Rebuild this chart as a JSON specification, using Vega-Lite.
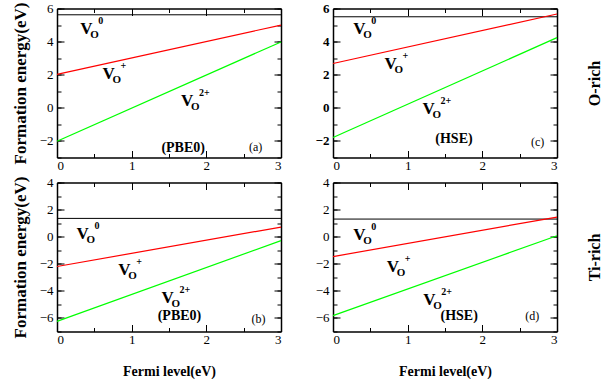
{
  "$schema": "https://vega.github.io/schema/vega-lite/v6.json",
  "padding": {"left": 11, "top": 1.5, "right": 0, "bottom": 0},
  "datasets": {
    "lines": [
      {"p": "a", "s": "+", "x": 0, "e": 2.02}, {"p": "a", "s": "+", "x": 3, "e": 5.0},
      {"p": "a", "s": "2+", "x": 0, "e": -2.02}, {"p": "a", "s": "2+", "x": 3, "e": 3.98},
      {"p": "c", "s": "+", "x": 0, "e": 2.68}, {"p": "c", "s": "+", "x": 3, "e": 5.67},
      {"p": "c", "s": "2+", "x": 0, "e": -1.79}, {"p": "c", "s": "2+", "x": 3, "e": 4.24},
      {"p": "b", "s": "+", "x": 0, "e": -2.2}, {"p": "b", "s": "+", "x": 3, "e": 0.71},
      {"p": "b", "s": "2+", "x": 0, "e": -6.25}, {"p": "b", "s": "2+", "x": 3, "e": -0.29},
      {"p": "d", "s": "+", "x": 0, "e": -1.47}, {"p": "d", "s": "+", "x": 3, "e": 1.45},
      {"p": "d", "s": "2+", "x": 0, "e": -5.83}, {"p": "d", "s": "2+", "x": 3, "e": 0.07}
    ],
    "v0": [
      {"p": "a", "e": 5.62}, {"p": "c", "e": 5.5}, {"p": "b", "e": 1.35}, {"p": "d", "e": 1.3}
    ],
    "labels": [
      {"p": "a", "x": 0.31, "y": 4.44, "sup": "0"}, {"p": "a", "x": 0.61, "y": 1.76, "sup": "+"}, {"p": "a", "x": 1.66, "y": 0.14, "sup": "2+"},
      {"p": "c", "x": 0.27, "y": 4.48, "sup": "0"}, {"p": "c", "x": 0.69, "y": 2.36, "sup": "+"}, {"p": "c", "x": 1.2, "y": -0.36, "sup": "2+"},
      {"p": "b", "x": 0.26, "y": -0.17, "sup": "0"}, {"p": "b", "x": 0.82, "y": -2.82, "sup": "+"}, {"p": "b", "x": 1.4, "y": -4.9, "sup": "2+"},
      {"p": "d", "x": 0.27, "y": -0.24, "sup": "0"}, {"p": "d", "x": 0.72, "y": -2.62, "sup": "+"}, {"p": "d", "x": 1.21, "y": -5.02, "sup": "2+"}
    ],
    "tags": [
      {"p": "a", "k": "m", "x": 1.69, "y": -2.41, "t": "(PBE0)"}, {"p": "a", "k": "l", "x": 2.66, "y": -2.35, "t": "(a)"},
      {"p": "c", "k": "m", "x": 1.62, "y": -1.88, "t": "(HSE)"}, {"p": "c", "k": "l", "x": 2.74, "y": -2.08, "t": "(c)"},
      {"p": "b", "k": "m", "x": 1.64, "y": -5.88, "t": "(PBE0)"}, {"p": "b", "k": "l", "x": 2.7, "y": -6.07, "t": "(b)"},
      {"p": "d", "k": "m", "x": 1.69, "y": -5.88, "t": "(HSE)"}, {"p": "d", "k": "l", "x": 2.67, "y": -5.88, "t": "(d)"}
    ]
  },
  "columns": 2,
  "spacing": {"row": 25, "column": 52},
  "bounds": "flush",
  "concat": [
    {
      "width": 224, "height": 149,
      "layer": [
        {"data": {"name": "v0"}, "transform": [{"filter": "datum.p == 'a'"}],
         "mark": {"type": "rule", "color": "black", "strokeWidth": 1},
         "encoding": {"y": {"field": "e", "type": "quantitative", "scale": {"domain": [-3, 6], "nice": false, "zero": false},
           "axis": {"orient": "left", "values": [-2, 0, 2, 4, 6], "tickSize": -7, "labelPadding": 11, "title": "Formation energy(eV)", "titlePadding": 19, "titleBaseline": "middle", "titleAngle": 270, "titleFontSize": 17}}}},
        {"data": {"name": "lines"}, "transform": [{"filter": "datum.p == 'a'"}],
         "mark": {"type": "line", "strokeWidth": 1.2},
         "encoding": {
           "x": {"field": "x", "type": "quantitative", "scale": {"domain": [0, 3], "nice": false, "zero": false},
             "axis": {"orient": "bottom", "values": [0, 1, 2, 3], "tickSize": -7, "labelPadding": 9, "title": null}},
           "y": {"field": "e", "type": "quantitative", "scale": {"domain": [-3, 6], "nice": false, "zero": false},
             "axis": {"orient": "left", "values": [-3, -2, -1, 0, 1, 2, 3, 4, 5, 6], "tickSize": -4, "labels": false, "domain": false, "title": null}},
           "color": {"field": "s", "type": "nominal", "scale": {"domain": ["+", "2+"], "range": ["#ff0000", "#00ff00"]}, "legend": null}}},
        {"data": {"name": "labels"}, "transform": [{"filter": "datum.p == 'a'"}],
         "mark": {"type": "text", "text": "V", "fontSize": 17, "fontWeight": "bold", "align": "left", "baseline": "alphabetic"},
         "encoding": {
           "x": {"field": "x", "type": "quantitative", "scale": {"domain": [0, 3], "nice": false, "zero": false},
             "axis": {"orient": "bottom", "values": [0, 0.5, 1, 1.5, 2, 2.5, 3], "tickSize": -4, "labels": false, "domain": false, "title": null}},
           "y": {"field": "y", "type": "quantitative", "scale": {"domain": [-3, 6], "nice": false, "zero": false},
             "axis": {"orient": "right", "values": [-2, 0, 2, 4, 6], "tickSize": -7, "labels": false, "title": null}}}},
        {"data": {"name": "labels"}, "transform": [{"filter": "datum.p == 'a'"}],
         "mark": {"type": "text", "text": "O", "fontSize": 11, "fontWeight": "bold", "align": "left", "baseline": "alphabetic", "dx": 10, "dy": 4},
         "encoding": {
           "x": {"field": "x", "type": "quantitative", "scale": {"domain": [0, 3], "nice": false, "zero": false},
             "axis": {"orient": "top", "values": [0, 1, 2, 3], "tickSize": -7, "labels": false, "title": null}},
           "y": {"field": "y", "type": "quantitative", "scale": {"domain": [-3, 6], "nice": false, "zero": false},
             "axis": {"orient": "right", "values": [-3, -2, -1, 0, 1, 2, 3, 4, 5, 6], "tickSize": -4, "labels": false, "domain": false, "title": null}}}},
        {"data": {"name": "labels"}, "transform": [{"filter": "datum.p == 'a'"}],
         "mark": {"type": "text", "fontSize": 10, "fontWeight": "bold", "align": "left", "baseline": "alphabetic", "dx": 18, "dy": -10},
         "encoding": {
           "x": {"field": "x", "type": "quantitative", "scale": {"domain": [0, 3], "nice": false, "zero": false},
             "axis": {"orient": "top", "values": [0, 0.5, 1, 1.5, 2, 2.5, 3], "tickSize": -4, "labels": false, "domain": false, "title": null}},
           "y": {"field": "y", "type": "quantitative", "scale": {"domain": [-3, 6], "nice": false, "zero": false}, "axis": null},
           "text": {"field": "sup"}}},
        {"data": {"name": "tags"}, "transform": [{"filter": "datum.p == 'a' && datum.k == 'm'"}],
         "mark": {"type": "text", "fontSize": 14, "fontWeight": "bold", "align": "center", "baseline": "middle"},
         "encoding": {
           "x": {"field": "x", "type": "quantitative", "axis": null},
           "y": {"field": "y", "type": "quantitative", "axis": null},
           "text": {"field": "t"}}},
        {"data": {"name": "tags"}, "transform": [{"filter": "datum.p == 'a' && datum.k == 'l'"}],
         "mark": {"type": "text", "fontSize": 12, "align": "center", "baseline": "middle"},
         "encoding": {
           "x": {"field": "x", "type": "quantitative", "axis": null},
           "y": {"field": "y", "type": "quantitative", "axis": null},
           "text": {"field": "t"}}}
      ],
      "resolve": {"axis": {"x": "independent", "y": "independent"}}
    },
    {
      "width": 224, "height": 149,
      "layer": [
        {"data": {"name": "v0"}, "transform": [{"filter": "datum.p == 'c'"}],
         "mark": {"type": "rule", "color": "black", "strokeWidth": 1},
         "encoding": {"y": {"field": "e", "type": "quantitative", "scale": {"domain": [-3, 6], "nice": false, "zero": false},
           "axis": {"orient": "left", "values": [-2, 0, 2, 4, 6], "tickSize": -7, "labelPadding": 11, "labelFontWeight": "bold", "title": null}}}},
        {"data": {"name": "lines"}, "transform": [{"filter": "datum.p == 'c'"}],
         "mark": {"type": "line", "strokeWidth": 1.2},
         "encoding": {
           "x": {"field": "x", "type": "quantitative", "scale": {"domain": [0, 3], "nice": false, "zero": false},
             "axis": {"orient": "bottom", "values": [0, 1, 2, 3], "tickSize": -7, "labelPadding": 9, "title": null}},
           "y": {"field": "e", "type": "quantitative", "scale": {"domain": [-3, 6], "nice": false, "zero": false},
             "axis": {"orient": "left", "values": [-3, -2, -1, 0, 1, 2, 3, 4, 5, 6], "tickSize": -4, "labels": false, "domain": false, "title": null}},
           "color": {"field": "s", "type": "nominal", "scale": {"domain": ["+", "2+"], "range": ["#ff0000", "#00ff00"]}, "legend": null}}},
        {"data": {"name": "labels"}, "transform": [{"filter": "datum.p == 'c'"}],
         "mark": {"type": "text", "text": "V", "fontSize": 17, "fontWeight": "bold", "align": "left", "baseline": "alphabetic"},
         "encoding": {
           "x": {"field": "x", "type": "quantitative", "scale": {"domain": [0, 3], "nice": false, "zero": false},
             "axis": {"orient": "bottom", "values": [0, 0.5, 1, 1.5, 2, 2.5, 3], "tickSize": -4, "labels": false, "domain": false, "title": null}},
           "y": {"field": "y", "type": "quantitative", "scale": {"domain": [-3, 6], "nice": false, "zero": false},
             "axis": {"orient": "right", "values": [-2, 0, 2, 4, 6], "tickSize": -7, "labels": false, "title": "O-rich", "titleAngle": 270, "titleBaseline": "middle", "titlePadding": 37, "titleFontSize": 16}}}},
        {"data": {"name": "labels"}, "transform": [{"filter": "datum.p == 'c'"}],
         "mark": {"type": "text", "text": "O", "fontSize": 11, "fontWeight": "bold", "align": "left", "baseline": "alphabetic", "dx": 10, "dy": 4},
         "encoding": {
           "x": {"field": "x", "type": "quantitative", "scale": {"domain": [0, 3], "nice": false, "zero": false},
             "axis": {"orient": "top", "values": [0, 1, 2, 3], "tickSize": -7, "labels": false, "title": null}},
           "y": {"field": "y", "type": "quantitative", "scale": {"domain": [-3, 6], "nice": false, "zero": false},
             "axis": {"orient": "right", "values": [-3, -2, -1, 0, 1, 2, 3, 4, 5, 6], "tickSize": -4, "labels": false, "domain": false, "title": null}}}},
        {"data": {"name": "labels"}, "transform": [{"filter": "datum.p == 'c'"}],
         "mark": {"type": "text", "fontSize": 10, "fontWeight": "bold", "align": "left", "baseline": "alphabetic", "dx": 18, "dy": -10},
         "encoding": {
           "x": {"field": "x", "type": "quantitative", "scale": {"domain": [0, 3], "nice": false, "zero": false},
             "axis": {"orient": "top", "values": [0, 0.5, 1, 1.5, 2, 2.5, 3], "tickSize": -4, "labels": false, "domain": false, "title": null}},
           "y": {"field": "y", "type": "quantitative", "scale": {"domain": [-3, 6], "nice": false, "zero": false}, "axis": null},
           "text": {"field": "sup"}}},
        {"data": {"name": "tags"}, "transform": [{"filter": "datum.p == 'c' && datum.k == 'm'"}],
         "mark": {"type": "text", "fontSize": 14, "fontWeight": "bold", "align": "center", "baseline": "middle"},
         "encoding": {
           "x": {"field": "x", "type": "quantitative", "axis": null},
           "y": {"field": "y", "type": "quantitative", "axis": null},
           "text": {"field": "t"}}},
        {"data": {"name": "tags"}, "transform": [{"filter": "datum.p == 'c' && datum.k == 'l'"}],
         "mark": {"type": "text", "fontSize": 12, "align": "center", "baseline": "middle"},
         "encoding": {
           "x": {"field": "x", "type": "quantitative", "axis": null},
           "y": {"field": "y", "type": "quantitative", "axis": null},
           "text": {"field": "t"}}}
      ],
      "resolve": {"axis": {"x": "independent", "y": "independent"}}
    },
    {
      "width": 224, "height": 149,
      "layer": [
        {"data": {"name": "v0"}, "transform": [{"filter": "datum.p == 'b'"}],
         "mark": {"type": "rule", "color": "black", "strokeWidth": 1},
         "encoding": {"y": {"field": "e", "type": "quantitative", "scale": {"domain": [-7, 4], "nice": false, "zero": false},
           "axis": {"orient": "left", "values": [-6, -4, -2, 0, 2, 4], "tickSize": -7, "labelPadding": 11, "title": "Formation energy(eV)", "titlePadding": 19, "titleBaseline": "middle", "titleAngle": 270, "titleFontSize": 17}}}},
        {"data": {"name": "lines"}, "transform": [{"filter": "datum.p == 'b'"}],
         "mark": {"type": "line", "strokeWidth": 1.2},
         "encoding": {
           "x": {"field": "x", "type": "quantitative", "scale": {"domain": [0, 3], "nice": false, "zero": false},
             "axis": {"orient": "bottom", "values": [0, 1, 2, 3], "tickSize": -7, "labelPadding": 9, "title": "Fermi level(eV)", "titlePadding": 18, "titleFontSize": 14}},
           "y": {"field": "e", "type": "quantitative", "scale": {"domain": [-7, 4], "nice": false, "zero": false},
             "axis": {"orient": "left", "values": [-7, -6, -5, -4, -3, -2, -1, 0, 1, 2, 3, 4], "tickSize": -4, "labels": false, "domain": false, "title": null}},
           "color": {"field": "s", "type": "nominal", "scale": {"domain": ["+", "2+"], "range": ["#ff0000", "#00ff00"]}, "legend": null}}},
        {"data": {"name": "labels"}, "transform": [{"filter": "datum.p == 'b'"}],
         "mark": {"type": "text", "text": "V", "fontSize": 17, "fontWeight": "bold", "align": "left", "baseline": "alphabetic"},
         "encoding": {
           "x": {"field": "x", "type": "quantitative", "scale": {"domain": [0, 3], "nice": false, "zero": false},
             "axis": {"orient": "bottom", "values": [0, 0.5, 1, 1.5, 2, 2.5, 3], "tickSize": -4, "labels": false, "domain": false, "title": null}},
           "y": {"field": "y", "type": "quantitative", "scale": {"domain": [-7, 4], "nice": false, "zero": false},
             "axis": {"orient": "right", "values": [-6, -4, -2, 0, 2, 4], "tickSize": -7, "labels": false, "title": null}}}},
        {"data": {"name": "labels"}, "transform": [{"filter": "datum.p == 'b'"}],
         "mark": {"type": "text", "text": "O", "fontSize": 11, "fontWeight": "bold", "align": "left", "baseline": "alphabetic", "dx": 10, "dy": 4},
         "encoding": {
           "x": {"field": "x", "type": "quantitative", "scale": {"domain": [0, 3], "nice": false, "zero": false},
             "axis": {"orient": "top", "values": [0, 1, 2, 3], "tickSize": -7, "labels": false, "title": null}},
           "y": {"field": "y", "type": "quantitative", "scale": {"domain": [-7, 4], "nice": false, "zero": false},
             "axis": {"orient": "right", "values": [-7, -6, -5, -4, -3, -2, -1, 0, 1, 2, 3, 4], "tickSize": -4, "labels": false, "domain": false, "title": null}}}},
        {"data": {"name": "labels"}, "transform": [{"filter": "datum.p == 'b'"}],
         "mark": {"type": "text", "fontSize": 10, "fontWeight": "bold", "align": "left", "baseline": "alphabetic", "dx": 18, "dy": -10},
         "encoding": {
           "x": {"field": "x", "type": "quantitative", "scale": {"domain": [0, 3], "nice": false, "zero": false},
             "axis": {"orient": "top", "values": [0, 0.5, 1, 1.5, 2, 2.5, 3], "tickSize": -4, "labels": false, "domain": false, "title": null}},
           "y": {"field": "y", "type": "quantitative", "scale": {"domain": [-7, 4], "nice": false, "zero": false}, "axis": null},
           "text": {"field": "sup"}}},
        {"data": {"name": "tags"}, "transform": [{"filter": "datum.p == 'b' && datum.k == 'm'"}],
         "mark": {"type": "text", "fontSize": 14, "fontWeight": "bold", "align": "center", "baseline": "middle"},
         "encoding": {
           "x": {"field": "x", "type": "quantitative", "axis": null},
           "y": {"field": "y", "type": "quantitative", "axis": null},
           "text": {"field": "t"}}},
        {"data": {"name": "tags"}, "transform": [{"filter": "datum.p == 'b' && datum.k == 'l'"}],
         "mark": {"type": "text", "fontSize": 12, "align": "center", "baseline": "middle"},
         "encoding": {
           "x": {"field": "x", "type": "quantitative", "axis": null},
           "y": {"field": "y", "type": "quantitative", "axis": null},
           "text": {"field": "t"}}}
      ],
      "resolve": {"axis": {"x": "independent", "y": "independent"}}
    },
    {
      "width": 224, "height": 149,
      "layer": [
        {"data": {"name": "v0"}, "transform": [{"filter": "datum.p == 'd'"}],
         "mark": {"type": "rule", "color": "black", "strokeWidth": 1},
         "encoding": {"y": {"field": "e", "type": "quantitative", "scale": {"domain": [-7, 4], "nice": false, "zero": false},
           "axis": {"orient": "left", "values": [-6, -4, -2, 0, 2, 4], "tickSize": -7, "labelPadding": 11, "title": null}}}},
        {"data": {"name": "lines"}, "transform": [{"filter": "datum.p == 'd'"}],
         "mark": {"type": "line", "strokeWidth": 1.2},
         "encoding": {
           "x": {"field": "x", "type": "quantitative", "scale": {"domain": [0, 3], "nice": false, "zero": false},
             "axis": {"orient": "bottom", "values": [0, 1, 2, 3], "tickSize": -7, "labelPadding": 9, "title": "Fermi level(eV)", "titlePadding": 18, "titleFontSize": 14}},
           "y": {"field": "e", "type": "quantitative", "scale": {"domain": [-7, 4], "nice": false, "zero": false},
             "axis": {"orient": "left", "values": [-7, -6, -5, -4, -3, -2, -1, 0, 1, 2, 3, 4], "tickSize": -4, "labels": false, "domain": false, "title": null}},
           "color": {"field": "s", "type": "nominal", "scale": {"domain": ["+", "2+"], "range": ["#ff0000", "#00ff00"]}, "legend": null}}},
        {"data": {"name": "labels"}, "transform": [{"filter": "datum.p == 'd'"}],
         "mark": {"type": "text", "text": "V", "fontSize": 17, "fontWeight": "bold", "align": "left", "baseline": "alphabetic"},
         "encoding": {
           "x": {"field": "x", "type": "quantitative", "scale": {"domain": [0, 3], "nice": false, "zero": false},
             "axis": {"orient": "bottom", "values": [0, 0.5, 1, 1.5, 2, 2.5, 3], "tickSize": -4, "labels": false, "domain": false, "title": null}},
           "y": {"field": "y", "type": "quantitative", "scale": {"domain": [-7, 4], "nice": false, "zero": false},
             "axis": {"orient": "right", "values": [-6, -4, -2, 0, 2, 4], "tickSize": -7, "labels": false, "title": "Ti-rich", "titleAngle": 270, "titleBaseline": "middle", "titlePadding": 37, "titleFontSize": 16}}}},
        {"data": {"name": "labels"}, "transform": [{"filter": "datum.p == 'd'"}],
         "mark": {"type": "text", "text": "O", "fontSize": 11, "fontWeight": "bold", "align": "left", "baseline": "alphabetic", "dx": 10, "dy": 4},
         "encoding": {
           "x": {"field": "x", "type": "quantitative", "scale": {"domain": [0, 3], "nice": false, "zero": false},
             "axis": {"orient": "top", "values": [0, 1, 2, 3], "tickSize": -7, "labels": false, "title": null}},
           "y": {"field": "y", "type": "quantitative", "scale": {"domain": [-7, 4], "nice": false, "zero": false},
             "axis": {"orient": "right", "values": [-7, -6, -5, -4, -3, -2, -1, 0, 1, 2, 3, 4], "tickSize": -4, "labels": false, "domain": false, "title": null}}}},
        {"data": {"name": "labels"}, "transform": [{"filter": "datum.p == 'd'"}],
         "mark": {"type": "text", "fontSize": 10, "fontWeight": "bold", "align": "left", "baseline": "alphabetic", "dx": 18, "dy": -10},
         "encoding": {
           "x": {"field": "x", "type": "quantitative", "scale": {"domain": [0, 3], "nice": false, "zero": false},
             "axis": {"orient": "top", "values": [0, 0.5, 1, 1.5, 2, 2.5, 3], "tickSize": -4, "labels": false, "domain": false, "title": null}},
           "y": {"field": "y", "type": "quantitative", "scale": {"domain": [-7, 4], "nice": false, "zero": false}, "axis": null},
           "text": {"field": "sup"}}},
        {"data": {"name": "tags"}, "transform": [{"filter": "datum.p == 'd' && datum.k == 'm'"}],
         "mark": {"type": "text", "fontSize": 14, "fontWeight": "bold", "align": "center", "baseline": "middle"},
         "encoding": {
           "x": {"field": "x", "type": "quantitative", "axis": null},
           "y": {"field": "y", "type": "quantitative", "axis": null},
           "text": {"field": "t"}}},
        {"data": {"name": "tags"}, "transform": [{"filter": "datum.p == 'd' && datum.k == 'l'"}],
         "mark": {"type": "text", "fontSize": 12, "align": "center", "baseline": "middle"},
         "encoding": {
           "x": {"field": "x", "type": "quantitative", "axis": null},
           "y": {"field": "y", "type": "quantitative", "axis": null},
           "text": {"field": "t"}}}
      ],
      "resolve": {"axis": {"x": "independent", "y": "independent"}}
    }
  ],
  "config": {
    "view": {"stroke": null},
    "font": "Liberation Serif, Times New Roman, serif",
    "style": {"guide-label": {"font": "Liberation Serif, Times New Roman, serif", "fontSize": 13, "fill": "black"}, "guide-title": {"font": "Liberation Serif, Times New Roman, serif", "fontWeight": "bold", "fill": "black"}},
    "axis": {"grid": false, "domainColor": "black", "domainWidth": 1.5, "tickColor": "black", "tickWidth": 1,
             "labelColor": "black", "labelFont": "Liberation Serif, Times New Roman, serif", "labelFontSize": 13,
             "titleFont": "Liberation Serif, Times New Roman, serif", "titleFontWeight": "bold", "titleColor": "black"},
    "text": {"font": "Liberation Serif, Times New Roman, serif", "color": "black"}
  }
}
